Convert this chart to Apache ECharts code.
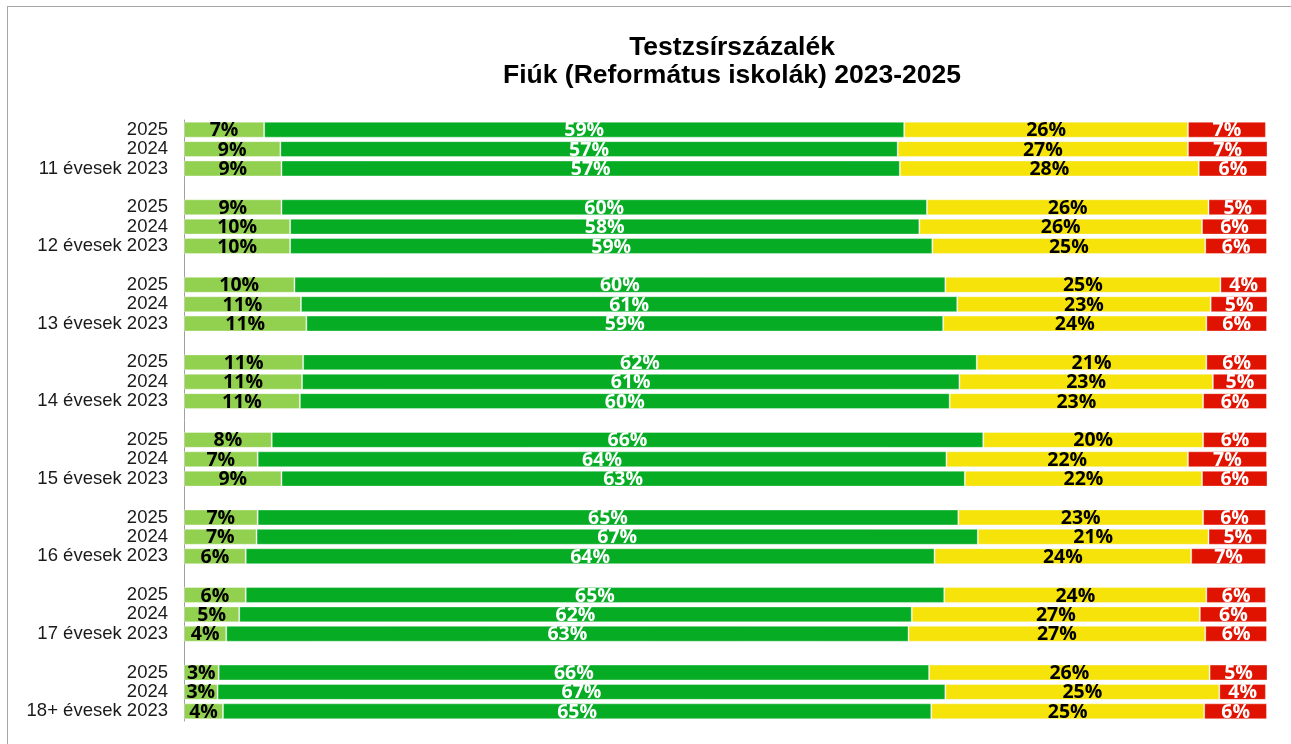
<!DOCTYPE html>
<html>
<head>
<meta charset="utf-8">
<script src="https://cdn.jsdelivr.net/npm/echarts@6/dist/echarts.min.js"></script>
<style>
  body { margin: 0; background: #fff; }
  #frame { position: absolute; left: 7px; top: 6px; width: 1400px; height: 900px; border: 1px solid #a6a6a6; }
  #chart { position: absolute; left: 0; top: 0; width: 1291px; height: 744px; }
</style>
</head>
<body>
<div id="frame"></div>
<div id="chart"></div>
<script>
// age groups, top to bottom; each one has three rows: 2025, 2024, 2023
const groups = ['11 évesek', '12 évesek', '13 évesek', '14 évesek', '15 évesek', '16 évesek', '17 évesek', '18+ évesek'];
const years = ['2025', '2024', '2023'];

// percentages per row, same order as above
const lightGreen = [7.4, 8.9, 9.0, 9.0, 9.8, 9.8, 10.2, 10.8, 11.3, 11.0, 10.9, 10.7, 8.1, 6.8, 9.0, 6.8, 6.7, 5.7, 5.7, 5.1, 3.9, 3.2, 3.1, 3.6];
const green = [59.1, 57.0, 57.1, 59.6, 58.1, 59.3, 60.1, 60.6, 58.8, 62.2, 60.7, 60.0, 65.7, 63.6, 63.1, 64.7, 66.6, 63.6, 64.5, 62.1, 63.0, 65.6, 67.2, 65.4];
const yellow = [26.2, 26.8, 27.6, 26.0, 26.1, 25.2, 25.4, 23.4, 24.3, 21.2, 23.4, 23.4, 20.3, 22.3, 21.9, 22.6, 21.3, 23.7, 24.2, 26.6, 27.4, 25.9, 25.3, 25.2];
const red = [7.2, 7.4, 6.3, 5.4, 6.0, 5.7, 4.3, 5.3, 5.6, 5.6, 5.0, 5.9, 5.9, 7.3, 6.1, 5.8, 5.4, 6.9, 5.5, 6.2, 5.7, 5.4, 4.3, 5.8];

// category list with an empty row between groups
let cats = [];
groups.forEach(function (g, gi) {
    years.forEach(function (y, yi) {
        cats.push(yi == 2 ? g + ' ' + y : y);
    });
    if (gi < groups.length - 1) cats.push('');
});

let withGaps = function (arr) {
    let out = [];
    arr.forEach(function (v, k) {
        out.push(v);
        if (k % 3 == 2 && k < arr.length - 1) out.push('-');
    });
    return out;
};

let makeSeries = function (name, arr, color, textColor) {
    return {
        name: name,
        type: 'bar',
        stack: 'all',
        barCategoryGap: '18%',
        data: withGaps(arr),
        itemStyle: { color: color, borderColor: 'rgba(255,255,255,0.35)', borderWidth: 1 },
        label: {
            show: true,
            position: 'inside',
            offset: [0, 1],
            color: textColor,
            fontFamily: 'Open Sans',
            fontWeight: 'bold',
            fontSize: 19.5,
            formatter: function (p) { return Math.round(p.value) + '%'; }
        },
        emphasis: { disabled: true }
    };
};

var chart = echarts.init(document.getElementById('chart'));
var option = {
    animation: false,
    title: {
        text: 'Testzsírszázalék\nFiúk (Református iskolák) 2023-2025',
        left: 732,
        top: 34,
        padding: 0,
        textAlign: 'center',
        textStyle: {
            fontFamily: 'Liberation Sans',
            fontWeight: 'bold',
            fontSize: 26.5,
            lineHeight: 28,
            color: '#000'
        }
    },
    grid: { left: 184, right: 24, top: 120, bottom: 23 },
    xAxis: { type: 'value', min: 0, max: 100, show: false },
    yAxis: {
        type: 'category',
        inverse: true,
        data: cats,
        axisLine: { show: true, lineStyle: { color: '#a0a0a0', width: 1 } },
        axisTick: { show: false },
        axisLabel: { interval: 0, fontFamily: 'Liberation Sans', fontSize: 18.5, color: '#1a1a1a', margin: 16 }
    },
    series: [
        makeSeries('lightGreen', lightGreen, '#92d050', '#000'),
        makeSeries('green', green, '#05ac24', '#fff'),
        makeSeries('yellow', yellow, '#f5e30a', '#000'),
        makeSeries('red', red, '#e01300', '#fff')
    ]
};
chart.setOption(option);
</script>
</body>
</html>
